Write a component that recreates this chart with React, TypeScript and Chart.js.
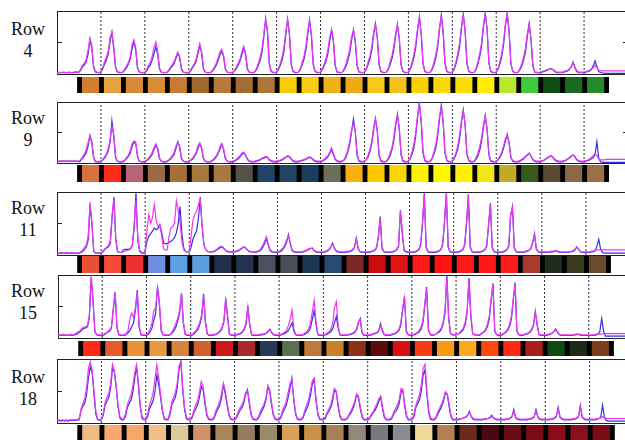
import { useEffect, useRef } from "react";
import { Chart, registerables } from "chart.js";

Chart.register(...registerables);

// ---------- data ----------
const rowLabels = ["4", "9", "11", "15", "18"];
const dividerDays = [2, 4, 6, 8, 10, 12, 14, 16, 18, 20, 22, 24];
const barBoundaries = [1, 2, 3, 4, 5, 6, 7, 8, 9, 10, 11, 12, 13, 14, 15, 16, 17, 18, 19, 20, 21, 22, 23, 24, 25];
const samplesPerDay = 12; // every 2 hours
const totalDays = 26;
const yTicks = [0, 50, 100];

// values per day (0h,2h,...,22h), scale 0..100
const row4Blue = [
  [2,2,2,2,2,2,2,2,2,2,3,3],
  [3,6,12,14,20,32,55,42,10,3,2,2],
  [3,8,16,22,32,52,66,40,10,3,2,2],
  [3,6,10,16,24,40,52,38,9,3,2,2],
  [2,5,10,14,22,32,43,32,8,3,2,2],
  [2,5,9,12,17,25,33,26,7,3,2,2],
  [2,5,10,14,20,32,46,34,8,3,2,2],
  [2,5,9,14,21,30,36,28,7,3,2,2],
  [2,5,9,14,21,31,42,31,8,3,2,2],
  [3,7,14,22,34,58,88,66,16,4,2,2],
  [3,7,14,22,36,62,87,62,15,4,2,2],
  [3,7,15,24,38,62,86,60,15,4,2,2],
  [3,7,13,20,32,52,70,52,13,3,2,2],
  [3,7,13,22,34,54,70,50,13,3,2,2],
  [3,7,15,24,38,62,80,58,14,4,2,2],
  [3,7,15,24,38,60,79,56,14,4,2,2],
  [3,7,15,26,42,68,91,64,16,4,2,2],
  [3,7,15,26,42,70,94,66,16,4,2,2],
  [3,7,16,28,44,72,95,68,16,4,2,2],
  [3,7,16,28,44,74,98,70,17,4,2,2],
  [3,7,16,28,46,76,96,68,16,4,2,2],
  [3,7,13,22,36,60,80,54,13,3,2,2],
  [2,3,4,5,6,8,9,7,4,2,2,2],
  [2,3,4,5,7,12,19,10,4,2,2,2],
  [2,3,4,5,7,13,21,12,4,2,2,1],
  [1,1,1,1,1,1,1,1,1,1,1,1],
];
const row4Magenta = [
  [2,3,2,3,3,2,3,3,2,3,3,3],
  [3,8,14,17,24,38,57,46,12,4,3,2],
  [4,10,20,27,36,58,67,44,12,4,3,2],
  [3,8,13,18,28,46,54,42,11,3,2,2],
  [3,7,14,19,28,42,51,36,10,3,2,2],
  [3,6,11,15,20,28,35,28,9,3,2,2],
  [3,6,12,16,24,36,48,36,10,3,2,2],
  [3,6,11,17,25,35,39,30,9,3,2,2],
  [3,6,11,17,24,35,44,34,10,3,2,2],
  [3,9,17,27,40,64,86,70,18,5,3,2],
  [3,9,17,27,42,67,85,66,17,5,3,2],
  [3,9,19,29,44,68,84,64,17,5,3,2],
  [3,9,16,25,38,58,71,56,15,4,3,2],
  [3,9,17,27,40,60,69,54,15,4,3,2],
  [3,9,19,29,44,66,78,60,16,5,3,2],
  [3,9,19,29,44,64,77,58,16,5,3,2],
  [3,9,19,31,48,72,89,66,18,5,3,2],
  [3,9,19,31,48,74,92,68,18,5,3,2],
  [3,9,20,33,50,76,93,70,18,5,3,2],
  [3,9,20,33,50,78,96,72,19,5,3,2],
  [3,9,20,33,52,80,98,70,18,5,3,2],
  [3,9,17,27,42,64,79,56,15,4,3,2],
  [3,4,5,6,7,8,8,7,5,3,3,3],
  [3,4,5,6,8,12,18,11,5,3,3,3],
  [3,4,5,6,8,10,14,10,6,5,5,5],
  [5,5,5,5,5,5,5,5,5,5,5,5],
];

const row9Blue = [
  [3,3,3,3,3,3,3,3,3,3,3,3],
  [2,4,8,12,17,28,45,34,8,2,2,2],
  [3,5,8,13,20,34,69,44,9,3,2,2],
  [2,4,7,11,16,27,34,32,10,3,2,2],
  [2,4,6,10,14,22,30,23,7,3,2,2],
  [2,4,6,10,14,24,35,26,7,3,2,2],
  [2,4,6,10,15,24,32,24,7,3,2,2],
  [2,4,6,10,15,22,31,22,7,3,2,2],
  [2,3,5,7,10,14,17,13,6,3,2,2],
  [2,3,4,5,7,8,10,9,5,3,2,2],
  [2,3,4,5,7,9,11,10,6,3,2,2],
  [2,3,4,5,6,8,9,8,5,3,2,2],
  [2,3,5,7,10,15,22,14,6,3,2,2],
  [3,5,10,19,32,52,72,50,12,3,2,2],
  [3,5,10,19,32,54,73,52,12,3,2,2],
  [3,6,12,21,36,60,80,56,13,3,2,2],
  [3,7,15,25,44,74,99,68,16,4,2,2],
  [3,7,15,25,44,72,95,66,16,4,2,2],
  [3,7,14,23,40,66,87,62,14,4,2,2],
  [3,6,12,21,36,58,78,55,13,3,2,2],
  [3,5,9,15,24,36,47,33,9,3,2,2],
  [2,3,5,7,10,13,16,11,5,3,2,2],
  [2,3,4,6,8,10,12,9,5,3,2,2],
  [2,3,4,6,8,11,13,10,5,3,2,2],
  [2,3,4,5,7,9,14,35,8,2,1,1],
  [1,1,1,1,1,1,1,1,1,1,1,1],
];
const row9Magenta = [
  [3,3,3,3,3,3,3,3,3,3,3,3],
  [3,6,10,15,22,34,44,36,10,3,2,2],
  [3,6,10,15,24,38,60,46,11,3,2,2],
  [3,5,9,13,20,31,36,35,12,3,2,2],
  [3,5,8,12,17,26,31,25,8,3,2,2],
  [3,5,8,12,17,28,34,28,8,3,2,2],
  [3,5,8,12,18,28,33,26,8,3,2,2],
  [3,5,8,12,17,26,32,24,8,3,2,2],
  [3,4,6,9,12,16,18,14,7,3,3,2],
  [3,4,5,6,8,9,11,10,6,4,3,3],
  [3,4,5,6,8,10,12,11,7,4,3,3],
  [3,4,5,6,7,9,10,9,6,4,3,3],
  [3,4,6,9,12,18,25,16,7,4,3,3],
  [3,6,13,23,36,56,64,52,14,4,3,2],
  [3,6,13,23,36,58,72,54,14,4,3,2],
  [3,8,16,25,42,64,78,58,15,4,3,2],
  [3,9,19,31,50,78,97,70,18,5,3,2],
  [3,9,19,31,50,76,93,68,18,5,3,2],
  [3,9,17,29,46,70,85,64,16,5,3,2],
  [3,9,16,27,42,62,76,57,15,4,3,2],
  [3,6,11,18,28,40,46,35,10,4,3,2],
  [3,4,6,8,11,14,16,12,6,4,3,3],
  [3,4,5,7,9,11,12,10,6,4,3,3],
  [3,4,5,7,9,12,13,11,6,4,3,3],
  [3,4,5,7,9,12,16,12,7,5,5,5],
  [6,6,6,6,6,6,6,6,6,6,6,6],
];

const row11Blue = [
  [3,3,3,3,3,3,3,3,3,3,3,3],
  [3,4,6,9,13,24,78,50,6,3,3,3],
  [3,5,9,11,13,18,58,92,24,5,4,4],
  [8,9,9,9,10,15,42,98,24,6,3,3],
  [5,22,30,34,38,43,40,42,48,36,19,18],
  [18,20,22,24,28,35,50,77,34,11,6,5],
  [5,12,25,32,38,58,92,46,16,8,6,5],
  [5,5,6,8,10,12,13,10,7,5,5,5],
  [5,5,6,7,9,11,13,10,7,5,5,5],
  [4,5,6,8,12,18,26,16,7,5,4,4],
  [4,5,6,9,13,20,32,18,7,5,4,4],
  [4,4,5,6,7,9,10,11,7,5,4,4],
  [4,4,5,6,8,12,19,11,6,5,4,4],
  [4,4,5,5,6,8,12,27,10,5,4,4],
  [4,4,4,5,6,7,11,28,61,10,5,4],
  [4,4,4,5,6,8,14,71,34,7,5,4],
  [4,4,4,5,6,8,16,48,98,12,5,4],
  [4,4,4,5,6,8,16,52,98,12,5,4],
  [4,4,4,5,6,8,16,50,96,12,5,4],
  [4,4,4,5,6,8,14,47,82,11,5,4],
  [4,4,4,5,6,8,14,62,77,11,5,4],
  [4,4,4,5,6,7,10,19,34,9,5,4],
  [4,4,4,4,4,5,5,6,7,5,4,4],
  [4,4,4,5,5,6,8,13,9,5,4,4],
  [4,4,4,5,5,7,14,25,9,4,3,3],
  [3,3,3,3,3,3,3,3,3,3,3,3],
];
const row11Magenta = [
  [3,3,4,3,3,4,3,3,4,3,3,3],
  [3,5,8,12,16,30,84,52,7,3,3,3],
  [3,6,10,12,15,22,64,88,26,6,4,4],
  [5,6,7,8,9,15,47,86,28,8,4,4],
  [6,40,64,50,60,80,55,45,48,30,10,8],
  [8,30,43,45,50,86,70,52,22,8,6,5],
  [6,30,55,64,70,80,88,46,16,8,6,5],
  [5,6,7,9,12,14,12,9,7,6,5,5],
  [5,6,7,8,10,12,13,10,7,6,5,5],
  [5,6,7,10,15,22,29,18,8,6,5,5],
  [5,6,8,11,16,24,30,20,8,6,5,5],
  [5,5,6,7,8,10,11,10,7,6,5,5],
  [5,5,6,7,9,13,17,12,7,6,5,5],
  [5,5,6,6,7,9,13,25,11,6,5,5],
  [5,5,5,6,7,8,13,30,58,12,6,5],
  [5,5,5,6,7,9,16,70,36,8,6,5],
  [5,5,5,6,7,9,18,52,96,14,6,5],
  [5,5,5,6,7,9,18,54,97,14,6,5],
  [5,5,5,6,7,9,18,52,94,14,6,5],
  [5,5,5,6,7,9,16,50,80,12,6,5],
  [5,5,5,6,7,9,16,64,75,12,6,5],
  [5,5,5,6,7,8,11,21,33,10,6,5],
  [5,5,5,5,5,6,6,7,7,6,5,5],
  [5,5,5,5,6,7,9,12,9,6,5,5],
  [5,5,5,6,6,7,8,8,8,8,8,8],
  [8,8,8,8,8,8,8,8,8,8,8,8],
];

const row15Blue = [
  [4,5,4,5,4,5,4,5,4,5,6,8],
  [10,13,15,16,18,32,95,62,10,5,4,4],
  [4,5,7,9,11,16,44,72,16,5,4,4],
  [4,5,8,12,18,24,44,76,18,5,4,4],
  [4,6,10,16,28,40,82,54,11,5,4,4],
  [4,5,8,12,18,28,40,71,24,6,4,4],
  [4,5,7,10,14,22,34,70,24,6,4,4],
  [4,5,6,8,10,15,25,63,34,6,4,4],
  [4,5,6,7,9,13,21,51,21,5,4,4],
  [4,4,5,5,6,7,10,14,8,5,4,4],
  [4,5,6,7,9,12,18,24,11,5,4,4],
  [4,5,6,8,10,16,30,44,22,5,4,4],
  [4,5,6,8,10,14,24,34,16,5,4,4],
  [4,5,5,6,7,9,13,24,31,7,4,4],
  [4,4,5,6,7,8,11,23,11,5,4,4],
  [4,5,6,7,9,12,20,44,66,10,5,4],
  [4,5,6,8,10,14,24,50,81,12,5,4],
  [5,6,8,10,14,22,40,100,30,7,5,5],
  [5,6,8,10,14,22,40,95,34,7,5,5],
  [4,5,7,9,12,18,30,58,87,10,5,4],
  [4,5,7,9,12,18,30,58,88,10,5,4],
  [4,5,6,7,9,12,20,42,20,5,4,4],
  [4,4,5,6,7,10,14,9,5,4,4,4],
  [4,4,4,4,5,5,6,5,4,4,4,4],
  [4,4,4,4,5,6,10,31,11,3,3,3],
  [3,3,3,3,3,3,3,3,3,3,3,3],
];
const row15Magenta = [
  [5,4,5,6,5,4,5,6,5,6,8,10],
  [12,15,17,18,20,36,100,58,11,6,5,5],
  [5,6,8,10,13,18,48,73,18,6,5,5],
  [5,7,12,30,40,32,48,74,20,6,5,5],
  [5,8,14,24,44,48,80,56,13,6,5,5],
  [5,6,10,16,24,32,44,70,26,7,5,5],
  [5,6,9,12,18,26,38,68,26,7,5,5],
  [5,6,7,9,12,17,27,60,36,7,5,5],
  [5,6,7,8,10,15,23,49,23,6,5,5],
  [5,5,6,6,7,8,11,13,9,6,5,5],
  [5,6,7,9,12,20,30,44,14,6,5,5],
  [5,6,8,10,14,24,42,60,26,6,5,5],
  [5,6,8,10,14,22,48,58,20,6,5,5],
  [5,5,6,7,8,10,14,26,29,8,5,5],
  [5,5,6,7,8,9,12,20,13,6,5,5],
  [5,6,7,8,10,14,24,48,64,12,6,5],
  [5,6,7,9,12,18,28,54,78,14,6,5],
  [5,6,9,12,16,26,44,96,32,8,5,5],
  [5,6,9,12,16,26,44,93,38,8,5,5],
  [5,6,8,10,14,22,34,62,85,12,6,5],
  [5,6,8,10,14,22,34,62,86,12,6,5],
  [5,6,7,8,10,14,22,40,22,6,5,5],
  [5,5,6,7,8,10,12,10,6,5,5,5],
  [5,5,5,5,5,6,6,6,5,5,5,5],
  [5,5,5,5,6,6,6,6,7,7,7,7],
  [7,7,7,7,7,7,7,7,7,7,7,7],
];

const row18Blue = [
  [3,4,3,4,3,4,3,4,4,4,4,5],
  [5,20,26,31,45,70,88,80,45,14,5,4],
  [5,12,28,34,40,55,85,80,55,25,8,5],
  [5,10,24,30,36,48,70,88,60,25,8,5],
  [5,10,22,28,35,50,75,60,40,18,6,5],
  [5,12,28,34,40,55,85,96,50,20,7,5],
  [5,8,16,22,28,40,57,52,30,12,6,5],
  [5,8,16,22,28,40,60,45,28,12,6,5],
  [5,8,14,20,24,32,45,52,30,12,6,5],
  [5,8,14,20,26,36,56,50,28,12,6,5],
  [5,8,16,22,28,40,55,70,36,14,6,5],
  [5,8,16,22,30,42,60,68,36,14,6,5],
  [5,7,14,18,24,34,52,48,26,10,5,5],
  [5,7,12,16,22,30,44,40,22,9,5,5],
  [5,7,12,16,20,26,34,41,22,9,5,5],
  [5,7,14,18,22,30,48,52,26,10,5,5],
  [5,10,24,30,36,50,75,83,45,16,6,5],
  [5,8,14,20,26,34,47,45,26,10,5,5],
  [5,5,6,7,8,9,12,18,10,6,5,5],
  [5,5,5,6,6,7,8,12,8,6,5,5],
  [5,5,5,6,6,7,10,21,8,6,5,5],
  [5,5,5,6,6,7,9,21,9,6,5,5],
  [5,5,5,6,6,7,10,24,9,6,5,5],
  [5,5,5,6,6,7,10,27,9,6,5,5],
  [5,5,5,5,6,7,9,28,9,4,3,3],
  [3,3,3,3,3,3,3,3,3,3,3,3],
];
const row18Magenta = [
  [4,5,4,5,4,5,4,5,5,5,5,6],
  [6,22,30,38,55,85,96,82,50,18,6,5],
  [6,15,32,40,46,62,92,82,58,28,10,6],
  [6,14,28,36,44,58,78,91,62,28,10,6],
  [6,14,28,36,48,70,91,70,45,20,8,6],
  [6,16,32,40,48,62,90,94,55,24,9,6],
  [6,10,20,28,34,48,65,58,34,15,7,6],
  [6,10,20,26,34,46,62,50,32,14,7,6],
  [6,10,18,24,28,36,48,50,34,14,7,6],
  [6,10,18,24,30,40,59,52,32,14,7,6],
  [6,10,20,26,34,48,62,68,40,16,7,6],
  [6,10,20,28,36,50,66,70,40,16,7,6],
  [6,9,16,22,28,40,54,50,30,12,6,6],
  [6,8,14,20,26,34,46,42,26,11,6,6],
  [6,8,14,18,24,30,38,42,26,11,6,6],
  [6,9,16,22,28,36,54,50,30,12,6,6],
  [6,14,28,36,44,60,85,92,50,20,8,6],
  [6,10,18,24,30,38,49,46,30,12,6,6],
  [6,6,7,7,8,10,12,16,11,7,6,6],
  [6,6,6,6,7,7,8,10,8,7,6,6],
  [6,6,6,6,7,8,10,18,9,7,6,6],
  [6,6,6,6,7,8,10,19,10,7,6,6],
  [6,6,6,6,7,8,11,22,10,7,6,6],
  [6,6,6,7,7,8,11,24,10,7,6,6],
  [6,6,6,6,7,7,8,10,8,7,7,7],
  [7,7,7,7,7,7,7,7,7,7,7,7],
];

const row4Colors = ["#d27f2c","#e6a040","#d88a38","#d88c3a","#c67a32","#a0682e","#b87a3c","#a46c32","#b07636","#f8cc00","#f8cc10","#f0b018","#eeaa14","#f8c818","#f5c21a","#f9d000","#fad800","#fddc00","#ffee00","#b8e82a","#3ccc3c","#0f4f14","#176b1c","#258a2c"];
const row9Colors = ["#d87040","#ff2a1a","#b86478","#9c6a44","#a87038","#a8783c","#a87a40","#555048","#1f4468","#1f4466","#1c3c5c","#6e6e58","#f8b010","#fcc800","#fcd600","#fff200","#fff600","#fff000","#f5e418","#c0aa28","#3a5a1c","#5a4a30","#8a6a45","#9a7045"];
const row11Colors = ["#e85035","#f84a38","#ee3030","#6f90e0","#5ca0e6","#5a9ee0","#22304c","#243450","#4a5060","#4c4c5c","#1c3654","#284a70","#7a2828","#c80c10","#e01414","#ff1a1a","#ff1414","#ff1a1a","#ff1818","#ff1c1c","#a83a2c","#202c1c","#3a3a20","#6a4a2c"];
const row15Colors = ["#ff2a14","#e8582a","#e8903a","#ec9840","#d8823a","#d06030","#cc1818","#a82828","#253a58","#5a7050","#c07838","#c8802a","#8c3018","#5c0c0c","#d81010","#f83c14","#fa9a10","#fca818","#fc4a0c","#ff2a14","#a82018","#0e4a12","#1e2a18","#7a3e1c"];
const row18Colors = ["#eebb80","#f8a870","#f5a86a","#f0c088","#dcc898","#d09068","#a8865a","#987a60","#9a8a68","#d8a058","#c89048","#a88058","#908878","#787880","#888c90","#f0d898","#b08050","#6a2a1c","#4a0810","#6a0c18","#7a0c18","#8a0c1a","#8a1020","#7a0c18"];

// ---------- layout (pixels) ----------
type Geom = { pl: number; w: number; pt: number; pb: number; bt: number; bb: number; lt: number };
const geoms: Geom[] = [
  { pl: 57, w: 571, pt: 11, pb: 74, bt: 77, bb: 93, lt: 18 },
  { pl: 57, w: 571, pt: 102, pb: 163, bt: 165, bb: 182, lt: 107 },
  { pl: 57, w: 573, pt: 192, pb: 255, bt: 256, bb: 273, lt: 197 },
  { pl: 58, w: 575, pt: 275, pb: 338, bt: 341, bb: 356, lt: 280 },
  { pl: 57, w: 577, pt: 359, pb: 423, bt: 425, bb: 441, lt: 366 },
];
const seriesBlue = [row4Blue, row9Blue, row11Blue, row15Blue, row18Blue];
const seriesMagenta = [row4Magenta, row9Magenta, row11Magenta, row15Magenta, row18Magenta];
const seriesColors = [row4Colors, row9Colors, row11Colors, row15Colors, row18Colors];

const BLUE = "#3030e8";
const MAGENTA = "#f036f0";
const FRAME = "#222222";
const PAD = 4;

function toPoints(days: number[][]) {
  const flat = days.flat();
  return flat.map((y, i) => ({ x: i / samplesPerDay, y }));
}

function Panel({ g, blue, magenta }: { g: Geom; blue: number[][]; magenta: number[][] }) {
  const ref = useRef<HTMLCanvasElement>(null);
  useEffect(() => {
    const dividers: { x: number; y: number | null }[] = [];
    dividerDays.forEach((d) => {
      dividers.push({ x: d, y: yTicks[0] }, { x: d, y: yTicks[yTicks.length - 1] }, { x: d, y: null });
    });
    const hideX = (s: any) => { s.height = 0; };
    const hideY = (s: any) => { s.width = 0; };
    const yAxis = (position: string) => ({
      type: "linear",
      position,
      min: yTicks[0],
      max: yTicks[yTicks.length - 1],
      ticks: { display: false, stepSize: yTicks[1] - yTicks[0] },
      grid: { display: true, drawOnChartArea: false, drawTicks: true, tickLength: -5, color: FRAME, tickColor: FRAME },
      border: { display: true, color: FRAME, width: 1 },
      afterFit: hideY,
    });
    const xAxis = (position: string) => ({
      type: "linear",
      position,
      min: 0,
      max: totalDays,
      ticks: { display: false },
      grid: { display: false },
      border: { display: true, color: FRAME, width: 1 },
      afterFit: hideX,
    });
    const chart = new Chart(ref.current as HTMLCanvasElement, {
      type: "line",
      data: {
        datasets: [
          { data: toPoints(magenta), borderColor: MAGENTA, borderWidth: 1.2, pointRadius: 0, tension: 0 },
          { data: toPoints(blue), borderColor: BLUE, borderWidth: 1.2, pointRadius: 0, tension: 0 },
          { data: dividers, borderColor: "#333333", borderWidth: 1, borderDash: [2, 2], pointRadius: 0, spanGaps: false },
        ],
      } as any,
      options: {
        animation: false,
        responsive: false,
        events: [],
        layout: { padding: PAD },
        plugins: { legend: { display: false }, tooltip: { enabled: false } },
        scales: {
          x: xAxis("bottom"),
          xTop: xAxis("top"),
          y: yAxis("left"),
          yRight: yAxis("right"),
        } as any,
      },
    });
    return () => chart.destroy();
  }, [g, blue, magenta]);
  return (
    <canvas
      ref={ref}
      width={g.w + 2 * PAD}
      height={g.pb - g.pt + 2 * PAD}
      style={{ position: "absolute", left: g.pl - PAD, top: g.pt - PAD, width: g.w + 2 * PAD, height: g.pb - g.pt + 2 * PAD }}
    />
  );
}

function ColorBar({ g, colors }: { g: Geom; colors: string[] }) {
  const ref = useRef<HTMLCanvasElement>(null);
  useEffect(() => {
    const common = { grouped: false, barPercentage: 1, categoryPercentage: 1, borderWidth: 0 };
    const chart = new Chart(ref.current as HTMLCanvasElement, {
      type: "bar",
      data: {
        labels: ["s"],
        datasets: [
          { ...common, data: barBoundaries.map((d) => ({ x: [d - 0.07, d + 0.12], y: "s" })), backgroundColor: "#000000" },
          { ...common, data: colors.map((_, i) => ({ x: [barBoundaries[i], barBoundaries[i + 1]], y: "s" })), backgroundColor: colors },
        ],
      } as any,
      options: {
        indexAxis: "y",
        animation: false,
        responsive: false,
        events: [],
        layout: { padding: 0 },
        plugins: { legend: { display: false }, tooltip: { enabled: false } },
        scales: {
          x: { type: "linear", min: 0, max: totalDays, display: false },
          y: { type: "category", display: false },
        } as any,
      },
    });
    return () => chart.destroy();
  }, [g, colors]);
  return (
    <canvas
      ref={ref}
      width={g.w}
      height={g.bb - g.bt}
      style={{ position: "absolute", left: g.pl, top: g.bt, width: g.w, height: g.bb - g.bt }}
    />
  );
}

export default function App() {
  return (
    <div style={{ position: "fixed", left: 0, top: 0, width: 625, height: 440, overflow: "hidden", background: "#ffffff" }}>
      {rowLabels.map((label, r) => {
        const g = geoms[r];
        return (
          <div key={label}>
            <div
              style={{
                position: "absolute",
                left: 0,
                top: g.lt,
                width: 56,
                textAlign: "center",
                fontFamily: "'Liberation Serif', 'Times New Roman', serif",
                fontSize: 18,
                lineHeight: "22px",
                color: "#111",
              }}
            >
              <div>Row</div>
              <div>{label}</div>
            </div>
            <Panel g={g} blue={seriesBlue[r]} magenta={seriesMagenta[r]} />
            <ColorBar g={g} colors={seriesColors[r]} />
          </div>
        );
      })}
    </div>
  );
}
